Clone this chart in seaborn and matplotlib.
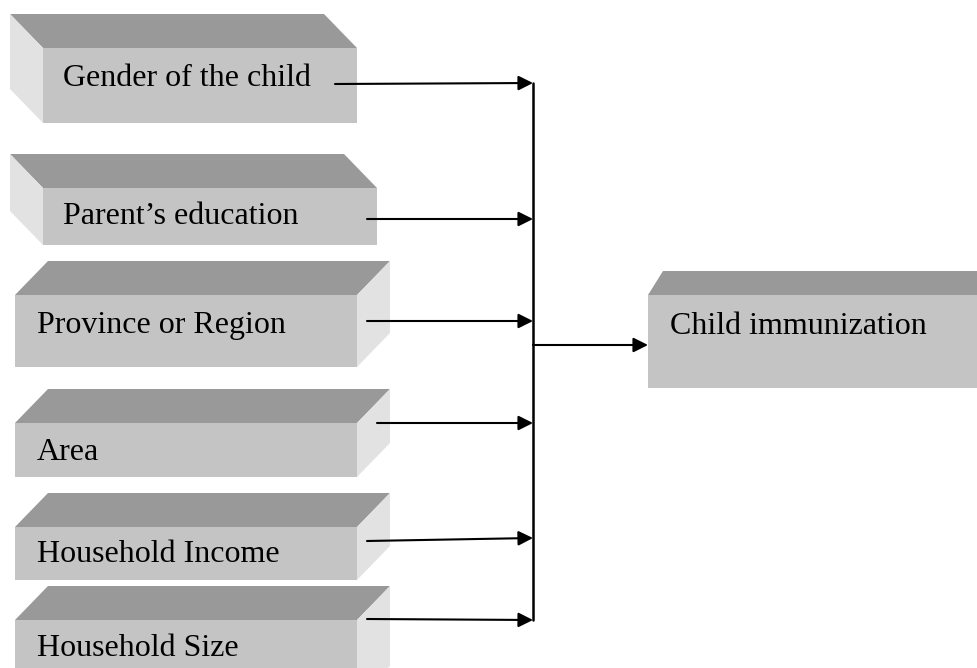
import matplotlib
matplotlib.use("Agg")
import matplotlib.pyplot as plt
import seaborn as sns
import pandas as pd

# factor boxes (pixel coords of the front face), text and arrow start
labels = ["Gender of the child", "Parent\u2019s education", "Province or Region",
          "Area", "Household Income", "Household Size"]
front_x0 = [43, 43, 15, 15, 15, 15]
front_x1 = [357, 377, 357, 357, 357, 357]
front_y0 = [48, 188, 295, 423, 527, 620]
front_y1 = [123, 245, 367, 477, 580, 700]
depth_side = ["left", "left", "right", "right", "right", "right"]
text_x = [63, 63, 37, 37, 37, 37]
text_y = [78, 217, 325, 453, 555, 648]
arrow_x0 = [335, 367, 367, 377, 367, 367]
arrow_y0 = [84, 219, 321, 423, 541, 619]
arrow_y1 = [83, 219, 321, 423, 538, 620]

outcome = "Child immunization"
bus_x = 533
out_box = [648, 995, 295, 388]   # x0, x1, y0, y1
out_y = 345

TOP = "#999999"
FRONT = "#c4c4c4"
SIDE = "#e2e2e2"

sns.set_theme(style="white")
plt.rcParams["font.family"] = ["Liberation Serif", "DejaVu Serif"]

fig = plt.figure(figsize=(9.78, 6.68), dpi=100)
ax = fig.add_axes([0, 0, 1, 1])
ax.set_xlim(0, 978)
ax.set_ylim(668, 0)
ax.axis("off")


def draw_box(ax, x0, x1, y0, y1, side, dx, dy):
    # front face
    ax.fill([x0, x1, x1, x0], [y0, y0, y1, y1], color=FRONT, lw=0)
    if side == "left":
        ax.fill([x0 - dx, x1 - dx, x1, x0], [y0 - dy, y0 - dy, y0, y0], color=TOP, lw=0)
        ax.fill([x0 - dx, x0, x0, x0 - dx], [y0 - dy, y0, y1, y1 - dy], color=SIDE, lw=0)
    else:
        ax.fill([x0 + dx, x1 + dx, x1, x0], [y0 - dy, y0 - dy, y0, y0], color=TOP, lw=0)
        ax.fill([x1, x1 + dx, x1 + dx, x1], [y0, y0 - dy, y1 - dy, y1], color=SIDE, lw=0)


for i, lab in enumerate(labels):
    draw_box(ax, front_x0[i], front_x1[i], front_y0[i], front_y1[i], depth_side[i], 33, 34)
    ax.text(text_x[i], text_y[i], lab, fontsize=23, va="center", ha="left", color="black")
    ax.annotate("", xy=(bus_x, arrow_y1[i]), xytext=(arrow_x0[i], arrow_y0[i]),
                arrowprops=dict(arrowstyle="-|>", color="black", lw=1.5,
                                mutation_scale=22, shrinkA=0, shrinkB=0))

# outcome box
draw_box(ax, out_box[0], out_box[1], out_box[2], out_box[3], "right", 15, 24)
ax.text(670, 327, outcome, fontsize=23, va="center", ha="left", color="black")

# vertical bus line
bus = pd.DataFrame({"x": [bus_x, bus_x], "y": [min(arrow_y1), max(arrow_y1)]})
sns.lineplot(data=bus, x="x", y="y", ax=ax, color="black", lw=1.8, sort=False,
             estimator=None, orient="y")
ax.set_xlim(0, 978)
ax.set_ylim(668, 0)
ax.axis("off")

ax.annotate("", xy=(out_box[0], out_y), xytext=(bus_x, out_y),
            arrowprops=dict(arrowstyle="-|>", color="black", lw=1.5,
                            mutation_scale=22, shrinkA=0, shrinkB=0))

fig.savefig("out.png", dpi=100)
